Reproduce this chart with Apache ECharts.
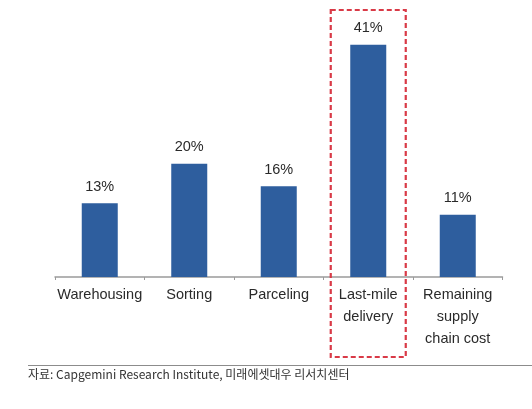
<!DOCTYPE html>
<html>
<head>
<meta charset="utf-8">
<script src="https://cdn.jsdelivr.net/npm/echarts@6/dist/echarts.min.js"></script>
<style>
html,body{margin:0;padding:0;background:#fff;}
#chart{width:532px;height:409px;}
</style>
</head>
<body>
<div id="chart"></div>
<script>
var categories = ['Warehousing', 'Sorting', 'Parceling', 'Last-mile\ndelivery', 'Remaining\nsupply\nchain cost'];
var values = [13, 20, 16, 41, 11];
var highlightCategory = 'Last-mile\ndelivery';
var sourceText = '자료: Capgemini Research Institute, 미래에셋대우 리서치센터';

var chart = echarts.init(document.getElementById('chart'), null, {renderer: 'canvas'});
var option = {
  animation: false,
  grid: {left: 55, right: 29.5, top: 22, bottom: 132, containLabel: false},
  xAxis: {
    type: 'category',
    data: categories,
    axisLine: {show: true, lineStyle: {color: '#9a9a9a', width: 1.5}},
    axisTick: {show: true, length: 3, inside: false, lineStyle: {color: '#9a9a9a', width: 1}},
    axisLabel: {
      interval: 0,
      margin: 7,
      color: '#2a2a2a',
      fontSize: 14.5,
      lineHeight: 22,
      fontFamily: 'Liberation Sans, Arial, sans-serif'
    }
  },
  yAxis: {
    type: 'value',
    min: 0,
    max: 45,
    show: false,
    splitLine: {show: false}
  },
  series: [{
    type: 'bar',
    data: values,
    barWidth: 36,
    itemStyle: {color: '#2e5e9e'},
    label: {
      show: true,
      position: 'top',
      distance: 9,
      formatter: '{c}%',
      color: '#2a2a2a',
      fontSize: 14.5,
      fontFamily: 'Liberation Sans, Arial, sans-serif'
    }
  }]
};
chart.setOption(option);

var cx = chart.convertToPixel({xAxisIndex: 0}, highlightCategory);
var boxW = 75;
chart.setOption({
  graphic: [
    {
      type: 'rect',
      shape: {x: cx - boxW / 2, y: 10, width: boxW, height: 347},
      style: {fill: 'none', stroke: '#d93a47', lineWidth: 2.2, lineDash: [5, 3]},
      z: 100
    },
    {
      type: 'line',
      shape: {x1: 28, y1: 365.5, x2: 532, y2: 365.5},
      style: {stroke: '#8c8c8c', lineWidth: 1}
    },
    {
      type: 'text',
      left: 28,
      top: 368,
      style: {
        text: sourceText,
        fill: '#333',
        fontSize: 12,
        fontFamily: 'Noto Sans CJK KR, sans-serif'
      }
    }
  ]
});
</script>
</body>
</html>
